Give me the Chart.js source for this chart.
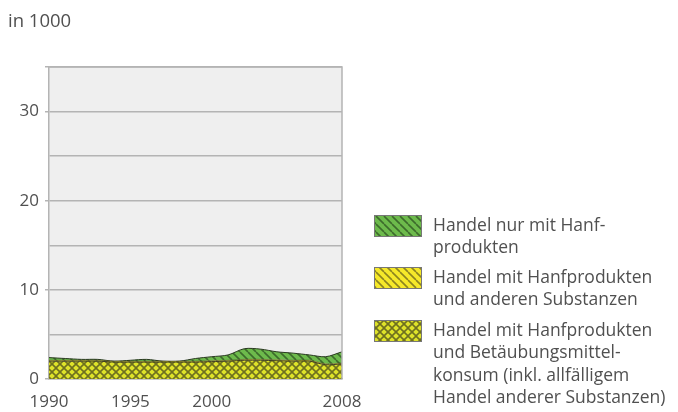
<!DOCTYPE html>
<html lang="de">
<head>
<meta charset="UTF-8">
<title>Handel mit Hanfprodukten</title>
<script src="https://cdn.jsdelivr.net/npm/chart.js"></script>
<style>
  html, body { margin: 0; padding: 0; background: #fff; }
  #wrap { width: 678px; height: 412px; position: relative; }
</style>
</head>
<body>
<div id="wrap"><canvas id="grafico" width="678" height="412"></canvas></div>

<script>
// Daten (in 1000)
const jahre = [1990, 1991, 1992, 1993, 1994, 1995, 1996, 1997, 1998, 1999, 2000, 2001, 2002, 2003, 2004, 2005, 2006, 2007, 2008];
const konsumHandel = [2.0, 2.0, 2.0, 2.0, 1.9, 1.9, 1.9, 1.9, 1.9, 1.9, 1.95, 2.0, 2.1, 2.1, 2.05, 2.0, 2.0, 1.6, 1.7];
const andereSubstanzen = [0.1, 0.1, 0.1, 0.1, 0.1, 0.1, 0.1, 0.1, 0.1, 0.1, 0.1, 0.1, 0.1, 0.1, 0.1, 0.1, 0.1, 0.1, 0.1];
const nurHanf = [0.3, 0.2, 0.1, 0.1, 0.0, 0.1, 0.2, 0.0, 0.0, 0.3, 0.45, 0.6, 1.2, 1.15, 0.9, 0.8, 0.6, 0.8, 1.25];
const xTicks = [1990, 1995, 2000, 2008];
const yLabels = [0, 10, 20, 30];

const legendeTexte = [
  ['Handel nur mit Hanf-', 'produkten'],
  ['Handel mit Hanfprodukten', 'und anderen Substanzen'],
  ['Handel mit Hanfprodukten', 'und Betäubungsmittel-', 'konsum (inkl. allfälligem', 'Handel anderer Substanzen)']
];

const schrift = "'Open Sans', 'DejaVu Sans', sans-serif";

function muster(grund, linie, kreuz) {
  const s = 8;
  const c = document.createElement('canvas');
  c.width = s; c.height = s;
  const g = c.getContext('2d');
  g.fillStyle = grund;
  g.fillRect(0, 0, s, s);
  g.strokeStyle = linie;
  g.lineWidth = 1.6;
  for (let x0 = -s; x0 <= s; x0 += s) {
    g.beginPath(); g.moveTo(x0, 0); g.lineTo(x0 + s, s); g.stroke();
    if (kreuz) { g.beginPath(); g.moveTo(x0 + s, 0); g.lineTo(x0, s); g.stroke(); }
  }
  return g.createPattern(c, 'repeat');
}

const ctx = document.getElementById('grafico').getContext('2d');
const fGruen = muster('#6dba4c', '#3d6b2c', false);
const fGelb = muster('#f6e92a', '#8c8420', false);
const fKreuz = muster('#dfe32a', '#6f7020', true);
const fuellungen = [fGruen, fGelb, fKreuz];

const hintergrund = {
  id: 'hintergrund',
  beforeDraw(chart) {
    const a = chart.chartArea, c = chart.ctx;
    c.save();
    c.fillStyle = '#efefef';
    c.fillRect(a.left, a.top, a.right - a.left, a.bottom - a.top);
    c.restore();
  },
  afterDatasetsDraw(chart) {
    const a = chart.chartArea, c = chart.ctx;
    c.save();
    c.strokeStyle = '#b4b4b4';
    c.lineWidth = 1.5;
    c.beginPath();
    c.moveTo(a.left, a.top); c.lineTo(a.right, a.top); c.lineTo(a.right, a.bottom);
    c.stroke();
    c.restore();
  }
};

const legende = {
  id: 'legende',
  afterDraw(chart) {
    const c = chart.ctx;
    const boxTop = [215, 267, 320];
    c.save();
    c.font = '17.5px ' + schrift;
    c.textBaseline = 'middle';
    legendeTexte.forEach((zeilen, i) => {
      c.fillStyle = fuellungen[i];
      c.fillRect(374, boxTop[i], 48, 22);
      c.strokeStyle = '#777';
      c.lineWidth = 1;
      c.strokeRect(374.5, boxTop[i] + 0.5, 47, 21);
      c.fillStyle = '#505050';
      zeilen.forEach((t, j) => c.fillText(t, 433, boxTop[i] + 11 + j * 22.5));
    });
    c.font = '18.5px ' + schrift;
    c.fillText('in 1000', 8, 22);
    c.restore();
  }
};

const punkte = arr => arr.map((v, i) => ({ x: jahre[i], y: v }));

new Chart(ctx, {
  type: 'line',
  data: {
    datasets: [
      { label: 'Handel mit Hanfprodukten und Betäubungsmittelkonsum', data: punkte(konsumHandel), backgroundColor: fKreuz, borderColor: '#3e3e20', borderWidth: 1, fill: 'origin', pointRadius: 0, tension: 0.3 },
      { label: 'Handel mit Hanfprodukten und anderen Substanzen', data: punkte(andereSubstanzen), backgroundColor: fGelb, borderColor: '#3e3e20', borderWidth: 0.5, fill: '-1', pointRadius: 0, tension: 0.3 },
      { label: 'Handel nur mit Hanfprodukten', data: punkte(nurHanf), backgroundColor: fGruen, borderColor: '#2a3a20', borderWidth: 1, fill: '-1', pointRadius: 0, tension: 0.3 }
    ]
  },
  options: {
    responsive: false,
    animation: false,
    layout: { padding: { top: 67, right: 336, left: 0, bottom: 0 } },
    plugins: { legend: { display: false }, tooltip: { enabled: false } },
    scales: {
      x: {
        type: 'linear',
        min: 1990,
        max: 2008,
        afterBuildTicks: s => { s.ticks = xTicks.map(v => ({ value: v })); },
        afterFit: s => { s.height = 33; },
        grid: { display: false },
        border: { color: '#b4b4b4', width: 1.5 },
        ticks: { color: '#505050', font: { family: schrift, size: 17 }, padding: 5, maxRotation: 0, callback: v => String(v) }
      },
      y: {
        stacked: true,
        min: 0,
        max: 35,
        afterFit: s => { s.width = 49; },
        ticks: {
          stepSize: 5,
          color: '#505050',
          font: { family: schrift, size: 17 },
          padding: 6,
          callback: v => yLabels.includes(v) ? String(v) : ''
        },
        grid: {
          color: '#b4b4b4',
          lineWidth: 1.5,
          tickLength: 4,
          tickColor: c => (c.tick && (c.tick.value % 10 === 0 || c.tick.value === 35)) ? '#b4b4b4' : 'rgba(0,0,0,0)'
        },
        border: { color: '#b4b4b4', width: 1.5 }
      }
    }
  },
  plugins: [hintergrund, legende]
});
</script>
</body>
</html>
